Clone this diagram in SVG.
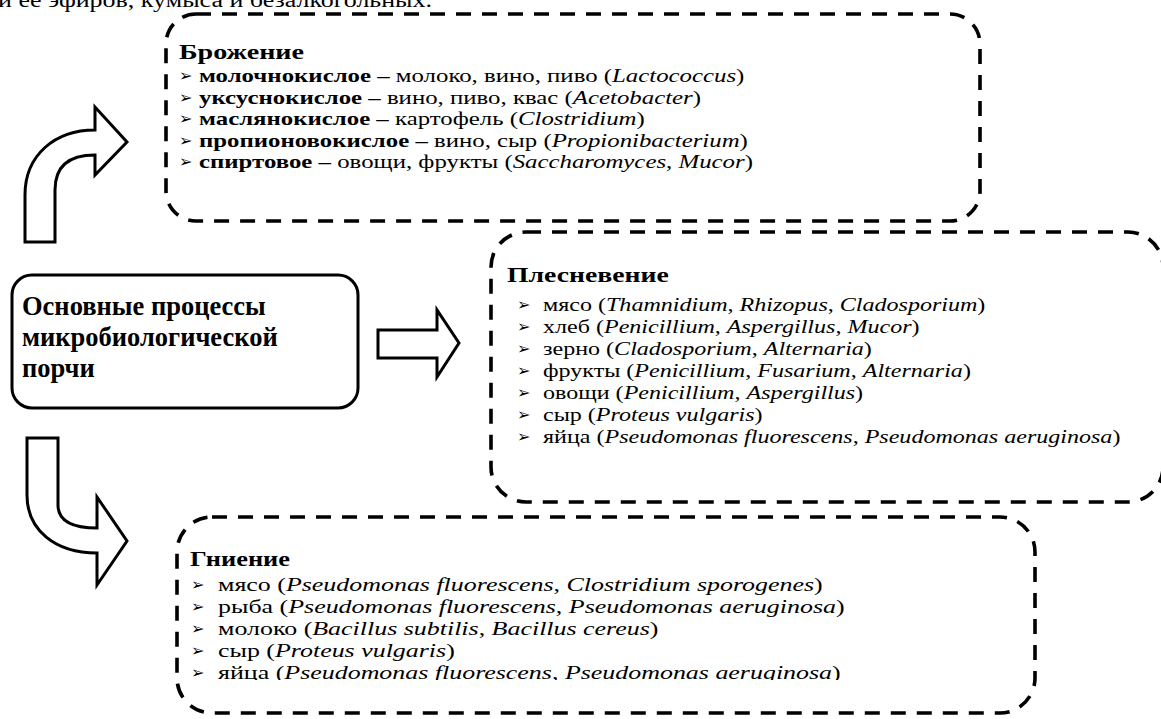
<svg xmlns="http://www.w3.org/2000/svg" width="1161" height="719" viewBox="0 0 1161 719">
<defs>
<style>
.box{fill:none;stroke:#000;stroke-width:3.6;stroke-dasharray:15 11}
.main{fill:#fff;stroke:#000;stroke-width:3}
.arr{fill:#fff;stroke:#000;stroke-width:3;stroke-linejoin:miter}
text{font-family:"Liberation Serif","Times New Roman",serif;fill:#000}
.b{font-weight:bold}
.i{font-style:italic}
.bul{font-family:"DejaVu Sans",sans-serif;font-size:16px}
.t1{font-size:19.4px}
.t2{font-size:19.8px}
.h{font-size:22px;font-weight:bold}
.mt{font-size:26.5px;font-weight:bold}
</style>
<clipPath id="clipBottom"><rect x="0" y="0" width="1161" height="680"/></clipPath>
</defs>
<rect width="1161" height="719" fill="#fff"/>
<text x="-2" y="7" font-size="20" textLength="434" lengthAdjust="spacingAndGlyphs">и ее эфиров, кумыса и безалкогольных.</text>

<g id="connectors">
<path class="arr" d="M25,242 L25,195 C25,155 55,130 95,130 L95,107 L127,142 L95,175 L95,155 C70,155 55,165 55,190 L55,242 Z"/>
<path class="arr" d="M378,330 L437,330 L437,310 L459,343 L437,377 L437,358 L378,358 Z"/>
<path class="arr" d="M27,438 L58,438 L58,505 C58,520 70,528 97,528 L97,497 L127,541 L97,585 L97,553 C55,553 27,530 27,495 Z"/>
</g>

<g id="main">
<rect class="main" x="12" y="275" width="346" height="133" rx="20"/>
<text class="mt" x="22" y="315">Основные процессы</text>
<text class="mt" x="22" y="346">микробиологической</text>
<text class="mt" x="22" y="377">порчи</text>
</g>

<g id="brozhenie">
<rect class="box" x="166" y="14" width="814" height="207" rx="30"/>
<text class="h" transform="translate(179,59) scale(1.28,1)">Брожение</text>
<text class="bul" x="179" y="81">➢</text>
<text class="bul" x="179" y="102.5">➢</text>
<text class="bul" x="179" y="124">➢</text>
<text class="bul" x="179" y="145.5">➢</text>
<text class="bul" x="179" y="167">➢</text>
<text class="t1" transform="translate(199,82) scale(1.28,1)"><tspan class="b">молочнокислое –</tspan> молоко, вино, пиво (<tspan class="i">Lactococcus</tspan>)</text>
<text class="t1" transform="translate(199,103.5) scale(1.28,1)"><tspan class="b">уксуснокислое –</tspan> вино, пиво, квас (<tspan class="i">Acetobacter</tspan>)</text>
<text class="t1" transform="translate(199,125) scale(1.28,1)"><tspan class="b">маслянокислое –</tspan> картофель (<tspan class="i">Clostridium</tspan>)</text>
<text class="t1" transform="translate(199,146.5) scale(1.28,1)"><tspan class="b">пропионовокислое –</tspan> вино, сыр (<tspan class="i">Propionibacterium</tspan>)</text>
<text class="t1" transform="translate(199,168) scale(1.28,1)"><tspan class="b">спиртовое –</tspan> овощи, фрукты (<tspan class="i">Saccharomyces</tspan>, <tspan class="i">Mucor</tspan>)</text>
</g>

<g id="plesnevenie">
<rect class="box" x="491" y="232" width="672" height="270" rx="35"/>
<text class="h" transform="translate(507,282) scale(1.26,1)">Плесневение</text>
<text class="bul" x="517" y="310">➢</text>
<text class="bul" x="517" y="332">➢</text>
<text class="bul" x="517" y="354">➢</text>
<text class="bul" x="517" y="376">➢</text>
<text class="bul" x="517" y="398">➢</text>
<text class="bul" x="517" y="420">➢</text>
<text class="bul" x="517" y="442">➢</text>
<g transform="translate(543,0) scale(1.215,1)">
<text class="t2" x="0" y="311">мясо (<tspan class="i">Thamnidium</tspan>, <tspan class="i">Rhizopus</tspan>, <tspan class="i">Cladosporium</tspan>)</text>
<text class="t2" x="0" y="333">хлеб (<tspan class="i">Penicillium</tspan>, <tspan class="i">Aspergillus</tspan>, <tspan class="i">Mucor</tspan>)</text>
<text class="t2" x="0" y="355">зерно (<tspan class="i">Cladosporium</tspan>, <tspan class="i">Alternaria</tspan>)</text>
<text class="t2" x="0" y="377">фрукты (<tspan class="i">Penicillium</tspan>, <tspan class="i">Fusarium</tspan>, <tspan class="i">Alternaria</tspan>)</text>
<text class="t2" x="0" y="399">овощи (<tspan class="i">Penicillium</tspan>, <tspan class="i">Aspergillus</tspan>)</text>
<text class="t2" x="0" y="421">сыр (<tspan class="i">Proteus vulgaris</tspan>)</text>
<text class="t2" x="0" y="443">яйца (<tspan class="i">Pseudomonas fluorescens</tspan>, <tspan class="i">Pseudomonas aeruginosa</tspan>)</text>
</g>
</g>

<g id="gnienie">
<rect class="box" x="177" y="517" width="858" height="196" rx="35"/>
<text class="h" transform="translate(190,566) scale(1.2,1)">Гниение</text>
<text class="bul" x="191" y="590">➢</text>
<text class="bul" x="191" y="612">➢</text>
<text class="bul" x="191" y="634">➢</text>
<text class="bul" x="191" y="656">➢</text>
<text class="bul" x="191" y="678">➢</text>
<g clip-path="url(#clipBottom)">
<g transform="translate(218,0) scale(1.31,1)">
<text class="t2" x="0" y="591">мясо (<tspan class="i">Pseudomonas fluorescens</tspan>, <tspan class="i">Clostridium sporogenes</tspan>)</text>
<text class="t2" x="0" y="613">рыба (<tspan class="i">Pseudomonas fluorescens</tspan>, <tspan class="i">Pseudomonas aeruginosa</tspan>)</text>
<text class="t2" x="0" y="635">молоко (<tspan class="i">Bacillus subtilis</tspan>, <tspan class="i">Bacillus cereus</tspan>)</text>
<text class="t2" x="0" y="657">сыр (<tspan class="i">Proteus vulgaris</tspan>)</text>
<text class="t2" x="0" y="679">яйца (<tspan class="i">Pseudomonas fluorescens</tspan>, <tspan class="i">Pseudomonas aeruginosa</tspan>)</text>
</g>
</g>
</g>
</svg>
